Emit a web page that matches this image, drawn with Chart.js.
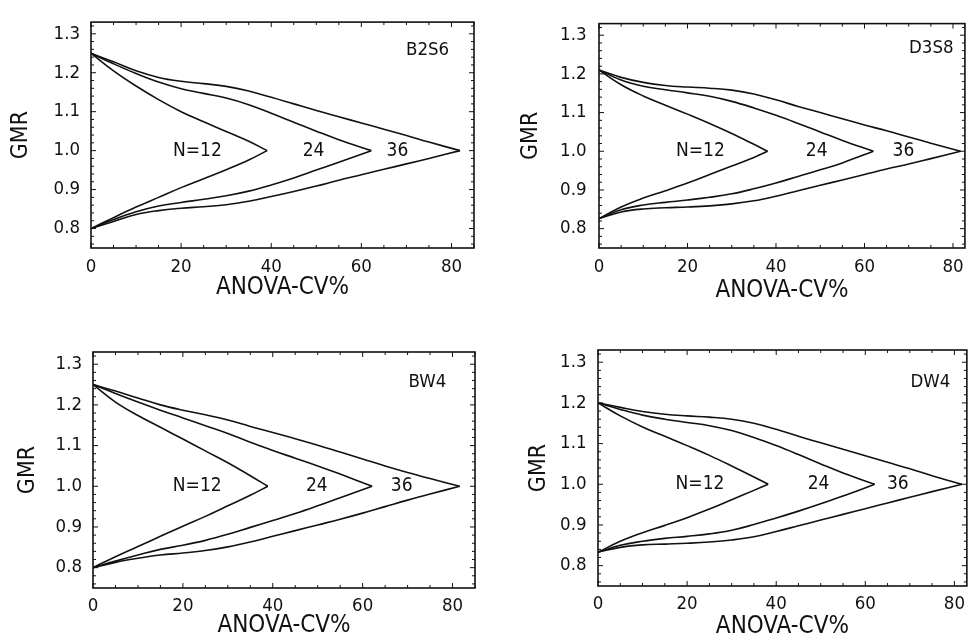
<!DOCTYPE html>
<html>
<head>
<meta charset="utf-8">
<script src="https://cdn.jsdelivr.net/npm/chart.js@4.4.1/dist/chart.umd.min.js"></script>
<style>
body { margin: 0; background: #fff; }
#wrap { position: relative; width: 972px; height: 638px; overflow: hidden; }
#wrap canvas { position: absolute; }
</style>
</head>
<body>
<div id="wrap">
<canvas id="p1" width="486" height="319" style="left:0;top:0"></canvas>
<canvas id="p2" width="486" height="319" style="left:486px;top:0"></canvas>
<canvas id="p3" width="486" height="319" style="left:0;top:319px"></canvas>
<canvas id="p4" width="486" height="319" style="left:486px;top:319px"></canvas>
</div>
<script>
// panel tags and curve labels
var panelTags = ["B2S6", "D3S8", "BW4", "DW4"];
var sizeLabels = ["N=12", "24", "36"];

// [ANOVA-CV%, GMR] along each branch of the acceptance region
// B2S6
var b2s6Up12 = [[0,1.25],[5,1.205],[10,1.166],[15,1.131],[20,1.100],[25,1.074],[30,1.049],[35,1.024],[39.1,1.0]];
var b2s6Lo12 = [[0,0.80],[5,0.828],[10,0.855],[15,0.880],[20,0.905],[25,0.928],[30,0.951],[35,0.976],[39.1,1.0]];
var b2s6Up24 = [[0,1.25],[5,1.223],[10,1.198],[15,1.176],[20,1.159],[25,1.147],[30,1.135],[35,1.118],[40,1.096],[45,1.073],[50,1.050],[55,1.028],[62.2,1.0]];
var b2s6Lo24 = [[0,0.80],[5,0.823],[10,0.843],[15,0.858],[20,0.867],[25,0.875],[30,0.884],[35,0.896],[40,0.912],[45,0.930],[50,0.950],[55,0.970],[62.2,1.0]];
var b2s6Up36 = [[0,1.25],[5,1.228],[10,1.205],[15,1.188],[20,1.178],[25,1.172],[30,1.165],[35,1.153],[40,1.137],[45,1.120],[50,1.103],[55,1.087],[60,1.071],[65,1.055],[70,1.039],[75,1.022],[81.9,1.0]];
var b2s6Lo36 = [[0,0.80],[5,0.818],[10,0.836],[15,0.846],[20,0.852],[25,0.856],[30,0.861],[35,0.870],[40,0.882],[45,0.895],[50,0.909],[55,0.924],[60,0.938],[65,0.952],[70,0.966],[75,0.980],[81.9,1.0]];
// D3S8
var d3s8Up12 = [[0,1.21],[5,1.172],[10,1.143],[15,1.119],[20,1.096],[25,1.072],[30,1.046],[35,1.018],[38.1,1.0]];
var d3s8Lo12 = [[0,0.826],[5,0.856],[10,0.879],[15,0.898],[20,0.918],[25,0.940],[30,0.962],[35,0.984],[38.1,1.0]];
var d3s8Up24 = [[0,1.21],[5,1.184],[10,1.168],[15,1.159],[20,1.151],[25,1.142],[30,1.129],[35,1.112],[40,1.093],[45,1.072],[50,1.050],[55,1.028],[62.0,1.0]];
var d3s8Lo24 = [[0,0.826],[5,0.849],[10,0.861],[15,0.868],[20,0.874],[25,0.881],[30,0.890],[35,0.903],[40,0.918],[45,0.935],[50,0.952],[55,0.970],[62.0,1.0]];
var d3s8Up36 = [[0,1.21],[5,1.191],[10,1.178],[15,1.170],[20,1.166],[25,1.163],[30,1.158],[35,1.148],[40,1.133],[45,1.116],[50,1.100],[55,1.084],[60,1.068],[65,1.053],[70,1.037],[75,1.021],[81.7,1.0]];
var d3s8Lo36 = [[0,0.826],[5,0.843],[10,0.851],[15,0.854],[20,0.856],[25,0.859],[30,0.864],[35,0.872],[40,0.884],[45,0.898],[50,0.912],[55,0.926],[60,0.940],[65,0.954],[70,0.967],[75,0.981],[81.7,1.0]];
// BW4
var bw4Up12 = [[0,1.25],[5,1.207],[10,1.174],[15,1.145],[20,1.116],[25,1.087],[30,1.058],[35,1.026],[38.9,1.0]];
var bw4Lo12 = [[0,0.80],[5,0.827],[10,0.852],[15,0.877],[20,0.902],[25,0.926],[30,0.952],[35,0.978],[38.9,1.0]];
var bw4Up24 = [[0,1.25],[5,1.228],[10,1.207],[15,1.187],[20,1.168],[25,1.149],[30,1.130],[35,1.108],[40,1.088],[45,1.069],[50,1.050],[55,1.030],[62.1,1.0]];
var bw4Lo24 = [[0,0.80],[5,0.816],[10,0.831],[15,0.845],[20,0.855],[25,0.867],[30,0.882],[35,0.899],[40,0.916],[45,0.933],[50,0.952],[55,0.972],[62.1,1.0]];
var bw4Up36 = [[0,1.25],[5,1.234],[10,1.217],[15,1.200],[20,1.187],[25,1.176],[30,1.163],[35,1.147],[40,1.132],[45,1.117],[50,1.101],[55,1.084],[60,1.067],[65,1.050],[70,1.034],[75,1.019],[81.6,1.0]];
var bw4Lo36 = [[0,0.80],[5,0.813],[10,0.823],[15,0.831],[20,0.836],[25,0.842],[30,0.851],[35,0.863],[40,0.877],[45,0.891],[50,0.905],[55,0.919],[60,0.934],[65,0.950],[70,0.966],[75,0.981],[81.6,1.0]];
// DW4
var dw4Up12 = [[0,1.20],[5,1.168],[10,1.141],[15,1.118],[20,1.095],[25,1.071],[30,1.045],[35,1.018],[38.2,1.0]];
var dw4Lo12 = [[0,0.833],[5,0.860],[10,0.881],[15,0.899],[20,0.918],[25,0.939],[30,0.962],[35,0.985],[38.2,1.0]];
var dw4Up24 = [[0,1.20],[5,1.184],[10,1.170],[15,1.160],[20,1.152],[25,1.144],[30,1.132],[35,1.115],[40,1.095],[45,1.073],[50,1.050],[55,1.028],[62.1,1.0]];
var dw4Lo24 = [[0,0.833],[5,0.850],[10,0.860],[15,0.867],[20,0.872],[25,0.878],[30,0.887],[35,0.901],[40,0.917],[45,0.934],[50,0.952],[55,0.971],[62.1,1.0]];
var dw4Up36 = [[0,1.20],[5,1.189],[10,1.179],[15,1.172],[20,1.168],[25,1.165],[30,1.160],[35,1.150],[40,1.135],[45,1.118],[50,1.102],[55,1.086],[60,1.070],[65,1.054],[70,1.038],[75,1.021],[81.7,1.0]];
var dw4Lo36 = [[0,0.833],[5,0.845],[10,0.851],[15,0.853],[20,0.855],[25,0.858],[30,0.863],[35,0.871],[40,0.884],[45,0.898],[50,0.912],[55,0.926],[60,0.940],[65,0.954],[70,0.968],[75,0.982],[81.7,1.0]];

var FONT = '"DejaVu Sans Condensed", "DejaVu Sans", sans-serif';
var INK = '#111';

// frame round the plot with inward ticks on all four sides
var frameTicks = {
  id: 'frameTicks',
  afterDraw: function (chart) {
    var ctx = chart.ctx, a = chart.chartArea;
    var xs = chart.scales.x, ys = chart.scales.y;
    ctx.save();
    ctx.strokeStyle = INK;
    ctx.lineWidth = 1.6;
    ctx.strokeRect(a.left, a.top, a.right - a.left, a.bottom - a.top);
    ctx.lineWidth = 1;
    ctx.beginPath();
    for (var i = 0; i * 5 <= xs.max; i++) {
      var px = xs.getPixelForValue(i * 5), len = i % 4 === 0 ? 5 : 3;
      ctx.moveTo(px, a.bottom); ctx.lineTo(px, a.bottom - len);
      ctx.moveTo(px, a.top); ctx.lineTo(px, a.top + len);
    }
    for (var j = 38; j <= 66; j++) {
      var py = ys.getPixelForValue(j / 50), ylen = j % 5 === 0 ? 5 : 3;
      ctx.moveTo(a.left, py); ctx.lineTo(a.left + ylen, py);
      ctx.moveTo(a.right, py); ctx.lineTo(a.right - ylen, py);
    }
    ctx.stroke();
    ctx.restore();
  }
};

// text placed at data coordinates
var textMarks = {
  id: 'textMarks',
  afterDatasetsDraw: function (chart, args, opts) {
    var ctx = chart.ctx, xs = chart.scales.x, ys = chart.scales.y;
    ctx.save();
    ctx.fillStyle = INK;
    ctx.textAlign = 'center';
    ctx.textBaseline = 'middle';
    opts.items.forEach(function (t) {
      ctx.font = t.size + 'px ' + FONT;
      ctx.fillText(t.text, xs.getPixelForValue(t.cv), ys.getPixelForValue(t.gmr));
    });
    ctx.restore();
  }
};

function makePanel(id, branches, xMax, items, lay) {
  new Chart(document.getElementById(id), {
    type: 'scatter',
    data: {
      datasets: branches.map(function (b) {
        return {
          data: b.map(function (p) { return { x: p[0], y: p[1] }; }),
          showLine: true,
          borderColor: INK,
          borderWidth: 1.6,
          pointRadius: 0,
          tension: 0.4,
          fill: false
        };
      })
    },
    options: {
      responsive: false,
      animation: false,
      layout: { padding: { top: lay.top, right: lay.right, left: 0, bottom: 0 } },
      plugins: {
        legend: { display: false },
        tooltip: { enabled: false },
        textMarks: { items: items }
      },
      scales: {
        x: {
          type: 'linear', min: 0, max: xMax,
          grid: { display: false, drawTicks: false }, border: { display: false },
          ticks: { stepSize: 20, includeBounds: false, padding: lay.xPad, color: INK, font: { family: FONT, size: 18.5 } },
          title: { display: true, text: 'ANOVA-CV%', color: INK,
                   font: { family: FONT, size: 24, lineHeight: lay.xLH },
                   padding: { top: 0, bottom: lay.xTitlePad } },
          afterFit: function (s) { s.height = lay.xH; }
        },
        y: {
          type: 'linear', min: 0.75, max: 1.33,
          grid: { display: false, drawTicks: false }, border: { display: false },
          ticks: { stepSize: 0.1, includeBounds: false, padding: lay.yPad, color: INK, font: { family: FONT, size: 18.5 },
                   callback: function (v) { return v.toFixed(1); } },
          title: { display: true, text: 'GMR', color: INK,
                   font: { family: FONT, size: 23 },
                   padding: { top: lay.yTitlePad, bottom: 0 } },
          afterFit: function (s) { s.width = lay.yW; }
        }
      }
    },
    plugins: [frameTicks, textMarks]
  });
}

function labelsAt(tag, tagCv, tagGmr, cvs) {
  var items = [{ text: tag, cv: tagCv, gmr: tagGmr, size: 18.5 }];
  sizeLabels.forEach(function (s, i) { items.push({ text: s, cv: cvs[i], gmr: 1.0, size: 19 }); });
  return items;
}

makePanel('p1', [b2s6Up12, b2s6Lo12, b2s6Up24, b2s6Lo24, b2s6Up36, b2s6Lo36], 85,
  labelsAt(panelTags[0], 74.7, 1.258, [23.6, 49.4, 68.0]),
  { top: 12, right: 12, yW: 91, xH: 71, xPad: 8.4, yPad: 11, yTitlePad: 7, xLH: 1.2, xTitlePad: 16.8 });

makePanel('p2', [d3s8Up12, d3s8Lo12, d3s8Up24, d3s8Lo24, d3s8Up36, d3s8Lo36], 82.7,
  labelsAt(panelTags[1], 75.1, 1.267, [22.9, 49.2, 68.8]),
  { top: 12, right: 1, yW: 113, xH: 71, xPad: 8.4, yPad: 12.5, yTitlePad: 31, xLH: 1.2, xTitlePad: 14.3 });

makePanel('p3', [bw4Up12, bw4Lo12, bw4Up24, bw4Lo24, bw4Up36, bw4Lo36], 85,
  labelsAt(panelTags[2], 74.4, 1.255, [23.2, 49.8, 68.7]),
  { top: 33, right: 11, yW: 93, xH: 50, xPad: 7, yPad: 11, yTitlePad: 14.5, xLH: 1.0, xTitlePad: 0 });

makePanel('p4', [dw4Up12, dw4Lo12, dw4Up24, dw4Lo24, dw4Up36, dw4Lo36], 82.8,
  labelsAt(panelTags[3], 74.6, 1.252, [22.9, 49.5, 67.3]),
  { top: 31, right: 1, yW: 112, xH: 52, xPad: 7, yPad: 11.5, yTitlePad: 39, xLH: 0.92, xTitlePad: 0 });
</script>
</body>
</html>
